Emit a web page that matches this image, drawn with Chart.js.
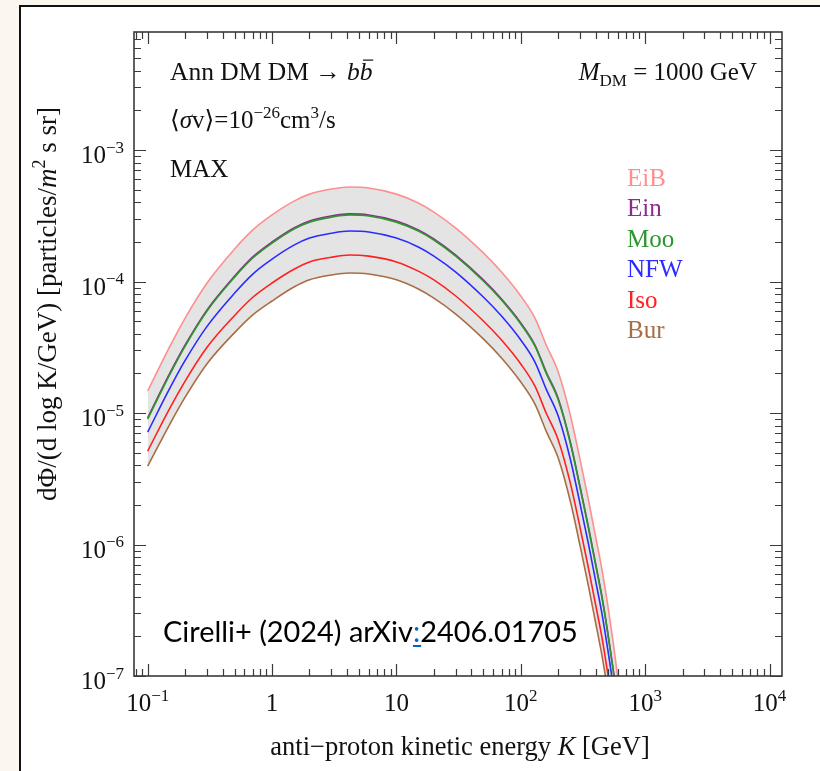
<!DOCTYPE html>
<html>
<head>
<meta charset="utf-8">
<script src="https://cdn.jsdelivr.net/npm/chart.js@4.4.1/dist/chart.umd.min.js"></script>
<style>
    html, body { margin: 0; padding: 0; background: #fbf6ee; overflow: hidden; }
    #frame { position: absolute; left: 19px; top: 5px; width: 820px; height: 800px; background: #fff; border-left: 2px solid #111; border-top: 2px solid #111; }
    #wrap { position: absolute; left: 0; top: 0; width: 820px; height: 771px; }
</style>
</head>
<body>
<div id="frame"></div>
<div id="wrap"><canvas id="chart" width="820" height="771"></canvas></div>
<script>
// kinetic energy K [GeV]
var energy = [0.1, 0.15, 0.2, 0.3, 0.5, 0.7, 1, 1.5, 2, 3, 4.2, 6, 10, 15, 20, 30, 50, 70, 100, 130, 160, 200, 250, 300, 350, 400, 450, 500, 550, 600, 650];

// dPhi/dlogK for each halo profile
var fluxEiB = [1.47e-5, 3.18e-5, 5.27e-5, 9.75e-5, 1.77e-4, 2.47e-4, 3.21e-4, 4.09e-4, 4.62e-4, 5.05e-4, 5.24e-4, 5.14e-4, 4.62e-4, 3.95e-4, 3.37e-4, 2.55e-4, 1.65e-4, 1.18e-4, 7.76e-5, 5.27e-5, 3.29e-5, 2.05e-5, 9.66e-6, 4.40e-6, 2.18e-6, 1.14e-6, 6.40e-7, 3.47e-7, 1.88e-7, 1.00e-7, 5.5e-8];
var fluxEin = [9.2e-6, 1.99e-5, 3.29e-5, 6.09e-5, 1.10e-4, 1.54e-4, 2.00e-4, 2.56e-4, 2.89e-4, 3.15e-4, 3.27e-4, 3.21e-4, 2.89e-4, 2.47e-4, 2.11e-4, 1.59e-4, 1.03e-4, 7.37e-5, 4.85e-5, 3.29e-5, 2.05e-5, 1.29e-5, 6.04e-6, 2.74e-6, 1.36e-6, 7.12e-7, 4.00e-7, 2.16e-7, 1.17e-7, 6.24e-8, 3.44e-8];
var fluxMoo = [9.0e-6, 1.95e-5, 3.23e-5, 5.97e-5, 1.08e-4, 1.51e-4, 1.96e-4, 2.51e-4, 2.83e-4, 3.09e-4, 3.21e-4, 3.15e-4, 2.83e-4, 2.42e-4, 2.07e-4, 1.56e-4, 1.01e-4, 7.23e-5, 4.75e-5, 3.23e-5, 2.01e-5, 1.26e-5, 5.92e-6, 2.69e-6, 1.33e-6, 6.98e-7, 3.92e-7, 2.12e-7, 1.15e-7, 6.12e-8, 3.37e-8];
var fluxNFW = [7.16e-6, 1.53e-5, 2.51e-5, 4.56e-5, 8.17e-5, 1.14e-4, 1.48e-4, 1.89e-4, 2.14e-4, 2.33e-4, 2.42e-4, 2.38e-4, 2.14e-4, 1.83e-4, 1.56e-4, 1.18e-4, 7.62e-5, 5.46e-5, 3.59e-5, 2.44e-5, 1.52e-5, 9.48e-6, 4.47e-6, 2.03e-6, 1.01e-6, 5.27e-7, 2.96e-7, 1.60e-7, 8.69e-8, 4.62e-8, 2.55e-8];
var fluxIso = [5.14e-6, 1.08e-5, 1.75e-5, 3.16e-5, 5.52e-5, 7.59e-5, 9.75e-5, 1.24e-4, 1.41e-4, 1.53e-4, 1.59e-4, 1.56e-4, 1.41e-4, 1.20e-4, 1.03e-4, 7.76e-5, 5.01e-5, 3.59e-5, 2.36e-5, 1.60e-5, 1.00e-5, 6.24e-6, 2.94e-6, 1.34e-6, 6.62e-7, 3.47e-7, 1.95e-7, 1.05e-7, 5.71e-8, 3.04e-8, 1.67e-8];
var fluxBur = [3.95e-6, 8.17e-6, 1.32e-5, 2.37e-5, 4.09e-5, 5.58e-5, 7.11e-5, 9.08e-5, 1.03e-4, 1.12e-4, 1.16e-4, 1.14e-4, 1.03e-4, 8.77e-5, 7.48e-5, 5.66e-5, 3.66e-5, 2.62e-5, 1.72e-5, 1.17e-5, 7.29e-6, 4.55e-6, 2.14e-6, 9.75e-7, 4.83e-7, 2.53e-7, 1.42e-7, 7.69e-8, 4.17e-8, 2.22e-8, 1.22e-8];

var profileNames = ['EiB', 'Ein', 'Moo', 'NFW', 'Iso', 'Bur'];
var profileColors = ['#ff8f8f', '#8e2a8e', '#2e962e', '#2b2bff', '#ff2020', '#a86d44'];

var xTickValues = [0.1, 1, 10, 100, 1000, 10000];
var xTickLabels = [['10', '\u22121'], ['1', ''], ['10', ''], ['10', '2'], ['10', '3'], ['10', '4']];
var yTickValues = [1e-7, 1e-6, 1e-5, 1e-4, 1e-3];
var yTickLabels = [['10', '\u22127'], ['10', '\u22126'], ['10', '\u22125'], ['10', '\u22124'], ['10', '\u22123']];

var xMin = 0.0776, xMax = 12600;
var yMin = 1e-7, yMax = 7.9e-3;

var SERIF = '"Liberation Serif", "DejaVu Serif", serif';

function points(ys) {
    var pts = [];
    for (var i = 0; i < energy.length; i++)
        pts.push({ x: energy[i], y: ys[i] });
    return pts;
}

// parts: [text, style]  style: '' | 'i' | 'sup' | 'sub' | 'ibar'
function partFont(style, size) {
    if (style === 'sup' || style === 'sub') return Math.round(size * 0.68) + 'px ' + SERIF;
    if (style === 'i' || style === 'ibar') return 'italic ' + size + 'px ' + SERIF;
    return size + 'px ' + SERIF;
}
function richWidth(ctx, parts, size) {
    var w = 0;
    parts.forEach(function (p) {
        ctx.font = partFont(p[1], size);
        w += ctx.measureText(p[0]).width;
    });
    return w;
}
function richText(ctx, parts, x, y, align, size, color) {
    var w = richWidth(ctx, parts, size);
    var cx = align === 'center' ? x - w / 2 : (align === 'right' ? x - w : x);
    ctx.fillStyle = color || '#111';
    ctx.textBaseline = 'alphabetic';
    ctx.textAlign = 'left';
    parts.forEach(function (p) {
        ctx.font = partFont(p[1], size);
        var dy = p[1] === 'sup' ? -size * 0.42 : (p[1] === 'sub' ? size * 0.22 : 0);
        var pw = ctx.measureText(p[0]).width;
        ctx.fillText(p[0], cx, y + dy);
        if (p[1] === 'ibar') {
            ctx.save();
            ctx.strokeStyle = color || '#111';
            ctx.lineWidth = 1.2;
            ctx.beginPath();
            ctx.moveTo(cx + pw * 0.25, y - size * 0.78);
            ctx.lineTo(cx + pw * 1.05, y - size * 0.78);
            ctx.stroke();
            ctx.restore();
        }
        cx += pw;
    });
}

function logTicks(min, max) {
    var out = [];
    for (var e = Math.floor(Math.log10(min)); e <= Math.ceil(Math.log10(max)); e++) {
        for (var m = 1; m <= 9; m++) {
            var v = m * Math.pow(10, e);
            if (v >= min * 0.9999 && v <= max * 1.0001) out.push({ v: v, major: m === 1 });
        }
    }
    return out;
}

var frameAxes = {
    id: 'frameAxes',
    afterDatasetsDraw: function (chart) {
        var ctx = chart.ctx, a = chart.chartArea;
        var xs = chart.scales.x, ys = chart.scales.y;
        ctx.save();

        // inward frame ticks on all four sides
        ctx.strokeStyle = '#3a3a3a';
        ctx.lineWidth = 1.2;
        ctx.beginPath();
        logTicks(xMin, xMax).forEach(function (t) {
            var px = Math.round(xs.getPixelForValue(t.v)) + 0.5;
            var len = t.major ? 12 : 7;
            ctx.moveTo(px, a.bottom); ctx.lineTo(px, a.bottom - len);
            ctx.moveTo(px, a.top); ctx.lineTo(px, a.top + len);
        });
        logTicks(yMin, yMax).forEach(function (t) {
            var py = Math.round(ys.getPixelForValue(t.v)) + 0.5;
            var len = t.major ? 12 : 7;
            ctx.moveTo(a.left, py); ctx.lineTo(a.left + len, py);
            ctx.moveTo(a.right, py); ctx.lineTo(a.right - len, py);
        });
        ctx.stroke();

        ctx.lineWidth = 1.6;
        ctx.strokeRect(a.left, a.top, a.right - a.left, a.bottom - a.top);

        // tick labels
        var size = 25;
        xTickValues.forEach(function (v, i) {
            var px = xs.getPixelForValue(v);
            richText(ctx, [[xTickLabels[i][0], ''], [xTickLabels[i][1], 'sup']], px, a.bottom + 35, 'center', size);
        });
        yTickValues.forEach(function (v, i) {
            var py = ys.getPixelForValue(v);
            richText(ctx, [[yTickLabels[i][0], ''], [yTickLabels[i][1], 'sup']], a.left - 10, py + 13, 'right', size);
        });

        // axis titles
        richText(ctx, [['anti\u2212proton kinetic energy ', ''], ['K', 'i'], [' [GeV]', '']],
            (a.left + a.right) / 2 + 2, a.bottom + 79, 'center', 26.5);
        ctx.save();
        ctx.translate(56, 304);
        ctx.rotate(-Math.PI / 2);
        richText(ctx, [['d\u03a6/(d log K/GeV) [particles/', ''], ['m', 'i'], ['2', 'sup'], [' s sr]', '']],
            0, 0, 'center', 27);
        ctx.restore();

        // annotations inside the frame
        richText(ctx, [['Ann DM DM \u2192 ', ''], ['b', 'i'], ['b', 'ibar']], 170, 80, 'left', 25.5);
        richText(ctx, [['M', 'i'], ['DM', 'sub'], [' = 1000 GeV', '']], 757, 80, 'right', 25);
        richText(ctx, [['\u27e8', ''], ['\u03c3', 'i'], ['v\u27e9=10', ''], ['\u221226', 'sup'], ['cm', ''], ['3', 'sup'], ['/s', '']], 170, 128, 'left', 25);
        richText(ctx, [['MAX', '']], 170, 177, 'left', 25);

        // profile legend
        profileNames.forEach(function (name, i) {
            richText(ctx, [[name, '']], 627, 186 + i * 30.4, 'left', 25, profileColors[i]);
        });

        // citation, fitted to the width it has in the slide
        var s1 = 'Cirelli+ (2024) arXiv', s2 = ':', s3 = '2406.01705';
        ctx.font = '26px Lato, "Open Sans", sans-serif';
        var fs = 26 * 415 / ctx.measureText(s1 + s2 + s3).width;
        ctx.font = fs.toFixed(1) + 'px Lato, "Open Sans", sans-serif';
        ctx.textAlign = 'left';
        ctx.textBaseline = 'alphabetic';
        var w1 = ctx.measureText(s1).width, w2 = ctx.measureText(s2).width;
        var cx = 163, cy = 642;
        ctx.fillStyle = '#000';
        ctx.fillText(s1, cx, cy);
        ctx.fillStyle = '#0563c1';
        ctx.fillText(s2, cx + w1, cy);
        ctx.fillRect(cx + w1, cy + 3, w2 + 1, 2);
        ctx.fillStyle = '#000';
        ctx.fillText(s3, cx + w1 + w2, cy);

        ctx.restore();
    }
};

var allFlux = [fluxEiB, fluxEin, fluxMoo, fluxNFW, fluxIso, fluxBur];
var datasets = allFlux.map(function (f, i) {
    return {
        label: profileNames[i],
        data: points(f),
        borderColor: profileColors[i],
        borderWidth: 1.6,
        showLine: true,
        pointRadius: 0,
        cubicInterpolationMode: 'monotone',
        fill: false,
        order: i === 1 ? 1 : 0
    };
});
// grey band between the highest (EiB) and lowest (Bur) profile
datasets[0].fill = 5;
datasets[0].backgroundColor = 'rgba(0,0,0,0.105)';

new Chart(document.getElementById('chart'), {
    type: 'scatter',
    data: { datasets: datasets },
    options: {
        responsive: false,
        animation: false,
        devicePixelRatio: 1,
        layout: { padding: { left: 134, right: 38, top: 32, bottom: 95 } },
        plugins: {
            legend: { display: false },
            tooltip: { enabled: false },
            filler: { drawTime: 'beforeDatasetsDraw' }
        },
        scales: {
            x: { type: 'logarithmic', display: false, min: xMin, max: xMax },
            y: { type: 'logarithmic', display: false, min: yMin, max: yMax }
        }
    },
    plugins: [frameAxes]
});
</script>
</body>
</html>
